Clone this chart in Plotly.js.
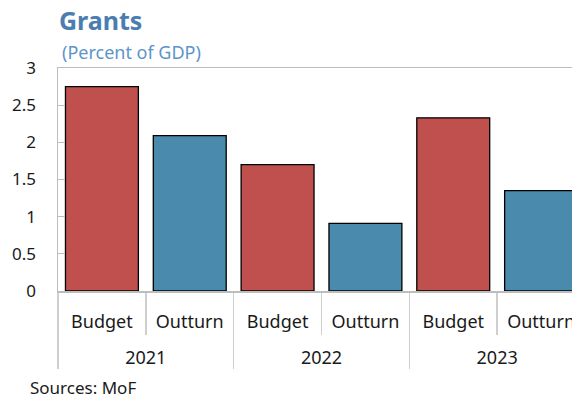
<!DOCTYPE html>
<html>
<head>
<meta charset="utf-8">
<script src="https://cdn.plot.ly/plotly-3.0.1.min.js"></script>
<style>
html,body{margin:0;padding:0;overflow:hidden;background:#fff;}
#chart{width:600px;height:398px;}
</style>
</head>
<body>
<div id="chart"></div>
<script>
var years = ["2021", "2022", "2023"];
var kinds = ["Budget", "Outturn"];
var budget = [2.75, 1.70, 2.33];
var outturn = [2.09, 0.91, 1.35];

var redColor = "#c0504d";
var blueColor = "#4a8aac";

var xOuter = [], xInner = [], yVals = [], colors = [];
years.forEach(function (yr, i) {
  // leading line break only pushes the year label lower
  xOuter.push("<br>" + yr); xInner.push(kinds[0]); yVals.push(budget[i]); colors.push(redColor);
  xOuter.push("<br>" + yr); xInner.push(kinds[1]); yVals.push(outturn[i]); colors.push(blueColor);
});

var font = "'Segoe UI', 'Noto Sans', 'Open Sans', sans-serif";

var trace = {
  type: "bar",
  x: [xOuter, xInner],
  y: yVals,
  width: 0.83,
  marker: {
    color: colors,
    line: {color: "#000", width: 1.3}
  },
  hoverinfo: "skip",
  showlegend: false
};

var layout = {
  width: 600,
  height: 398,
  margin: {l: 58, r: 15, t: 68, b: 107},
  paper_bgcolor: "#fff",
  plot_bgcolor: "#fff",
  font: {family: font, size: 17, color: "#1a1a1a"},
  title: {
    text: "<b>Grants</b>",
    x: 59 / 600, xanchor: "left",
    y: 1 - 21 / 398, yanchor: "middle",
    font: {family: font, size: 25, color: "#4a7eb0"}
  },
  xaxis: {
    type: "multicategory",
    range: [-0.5, 5.5],
    showline: true, linecolor: "#bdbdbd", linewidth: 1.5, mirror: true,
    ticks: "outside", tickson: "boundaries", ticklen: 42, tickcolor: "#cfcfcf", tickwidth: 1.5,
    showdividers: true, dividercolor: "#cfcfcf", dividerwidth: 1.5,
    ticklabelstandoff: 14,
    tickfont: {family: font, size: 18, color: "#1a1a1a"},
    showgrid: false, zeroline: false
  },
  yaxis: {
    range: [0, 3],
    dtick: 0.5,
    tick0: 0,
    showline: true, linecolor: "#bdbdbd", linewidth: 1.5, mirror: true,
    ticks: "inside", ticklen: 7, tickcolor: "#bdbdbd", tickwidth: 1,
    ticklabelstandoff: 17,
    tickfont: {family: font, size: 17, color: "#1a1a1a"},
    showgrid: false, zeroline: false
  },
  annotations: [
    {
      text: "(Percent of GDP)",
      xref: "paper", yref: "paper",
      x: (60 - 58) / 527, y: (291 - 52) / 223,
      xanchor: "left", yanchor: "middle", showarrow: false,
      font: {family: font, size: 18, color: "#5b95c9"}
    },
    {
      text: "Sources: MoF",
      xref: "paper", yref: "paper",
      x: (28 - 58) / 527, y: (291 - 387) / 223,
      xanchor: "left", yanchor: "middle", showarrow: false,
      font: {family: font, size: 17, color: "#1a1a1a"}
    }
  ]
};

Plotly.newPlot("chart", [trace], layout, {displayModeBar: false, staticPlot: true});
</script>
</body>
</html>
